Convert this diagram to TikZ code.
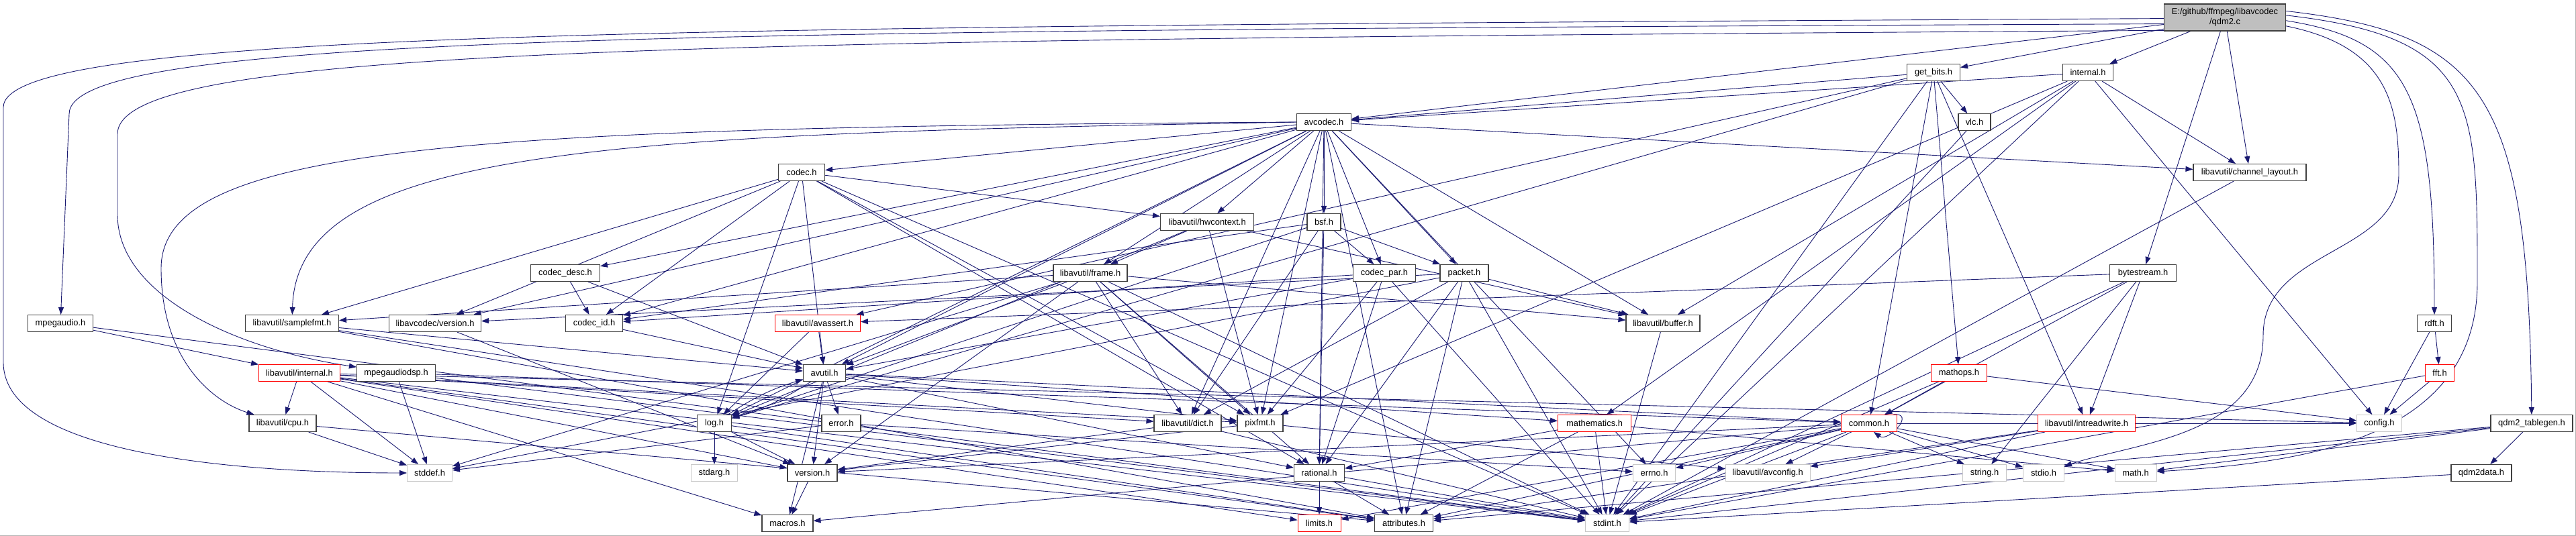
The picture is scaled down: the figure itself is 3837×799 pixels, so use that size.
\documentclass[tikz,border=0pt]{standalone}
\usepackage{fontspec}
\setmainfont{Liberation Sans}
\usepackage{xcolor}
\usepackage{tikz}
\usetikzlibrary{arrows.meta,backgrounds}
\definecolor{dxedge}{RGB}{25,25,112}
\definecolor{dxroot}{RGB}{191,191,191}
\definecolor{dxline}{RGB}{64,64,64}
\definecolor{dxsys}{RGB}{200,200,200}
\definecolor{dxtrunc}{RGB}{255,0,0}

\begin{document}
\begin{tikzpicture}[
  x=1pt, y=-1pt,
  font=\fontsize{12.9}{15}\selectfont,
  box/.style={draw=dxline,line width=1.1pt,fill=white,minimum height=25pt,inner sep=0pt},
  trunc/.style={box,draw=dxtrunc,line width=0.9pt},
  sys/.style={box,draw=dxsys,line width=0.9pt},
  flow/.style={-{Triangle[length=11pt,width=8pt]},draw=dxedge,line width=0.9pt}
]
\useasboundingbox (0,0) rectangle (3837,799);
\node[box,fill=dxroot,draw=dxline,minimum width=181pt,minimum height=40pt,align=center] (root) at (3314,26) {E:/github/ffmpeg/libavcodec\\/qdm2.c};
\node[box,minimum width=79pt] (getbits) at (2880,108) {get\_bits.h};
\node[box,minimum width=75pt] (lavcint) at (3110,108) {internal.h};
\node[box,minimum width=81pt] (avcodec) at (1972,182) {avcodec.h};
\node[box,minimum width=48pt] (vlc) at (2941,182) {vlc.h};
\node[box,minimum width=69pt] (codec) at (1194,257) {codec.h};
\node[box,minimum width=168pt] (chlayout) at (3351,257) {libavutil/channel\_layout.h};
\node[box,minimum width=139pt] (hwctx) at (1798,331) {libavutil/hwcontext.h};
\node[box,minimum width=50pt] (bsf) at (1972,331) {bsf.h};
\node[box,minimum width=103pt] (codecdesc) at (842,407) {codec\_desc.h};
\node[box,minimum width=110pt] (frame) at (1624,407) {libavutil/frame.h};
\node[box,minimum width=93pt] (codecpar) at (2062,407) {codec\_par.h};
\node[box,minimum width=72pt] (packet) at (2181,407) {packet.h};
\node[box,minimum width=99pt] (bytestr) at (3192,407) {bytestream.h};
\node[box,minimum width=97pt] (mpegaudio) at (90,482) {mpegaudio.h};
\node[box,minimum width=139pt] (samplefmt) at (435,482) {libavutil/samplefmt.h};
\node[box,minimum width=137pt] (lavcver) at (648,482) {libavcodec/version.h};
\node[box,minimum width=85pt] (codecid) at (885,482) {codec\_id.h};
\node[trunc,minimum width=127pt] (avassert) at (1218,482) {libavutil/avassert.h};
\node[box,minimum width=110pt] (buffer) at (2477,482) {libavutil/buffer.h};
\node[box,minimum width=51pt] (rdft) at (3626,482) {rdft.h};
\node[trunc,minimum width=121pt] (lavuint) at (446,556) {libavutil/internal.h};
\node[box,minimum width=117pt] (mpadsp) at (590,556) {mpegaudiodsp.h};
\node[box,minimum width=63pt] (avutil) at (1228,556) {avutil.h};
\node[trunc,minimum width=83pt] (mathops) at (2918,556) {mathops.h};
\node[trunc,minimum width=43pt] (fft) at (3634,556) {fft.h};
\node[box,minimum width=100pt] (cpu) at (421,631) {libavutil/cpu.h};
\node[box,minimum width=51pt] (log) at (1064,631) {log.h};
\node[box,minimum width=58pt] (error) at (1253,631) {error.h};
\node[box,minimum width=100pt] (dict) at (1769,631) {libavutil/dict.h};
\node[box,minimum width=68pt] (pixfmt) at (1877,631) {pixfmt.h};
\node[trunc,minimum width=109pt] (mathem) at (2375,631) {mathematics.h};
\node[trunc,minimum width=83pt] (common) at (2784,631) {common.h};
\node[trunc,minimum width=145pt] (intrw) at (3108,631) {libavutil/intreadwrite.h};
\node[sys,minimum width=67pt] (config) at (3544,631) {config.h};
\node[box,minimum width=122pt] (tablegen) at (3771,631) {qdm2\_tablegen.h};
\node[sys,minimum width=67pt] (stddef) at (640,705) {stddef.h};
\node[sys,minimum width=69pt] (stdarg) at (1064,705) {stdarg.h};
\node[box,minimum width=74pt] (version) at (1210,705) {version.h};
\node[box,minimum width=75pt] (rational) at (1965,705) {rational.h};
\node[sys,minimum width=63pt] (errno) at (2464,705) {errno.h};
\node[sys,minimum width=126pt] (avconfig) at (2633,705) {libavutil/avconfig.h};
\node[sys,minimum width=65pt] (string) at (2956,705) {string.h};
\node[sys,minimum width=61pt] (stdio) at (3044,705) {stdio.h};
\node[sys,minimum width=62pt] (math) at (3181,705) {math.h};
\node[box,minimum width=90pt] (qdm2data) at (3696,705) {qdm2data.h};
\node[box,minimum width=76pt] (macros) at (1173,780) {macros.h};
\node[trunc,minimum width=64pt] (limits) at (1965,780) {limits.h};
\node[box,minimum width=87pt] (attrib) at (2091,780) {attributes.h};
\node[sys,minimum width=65pt] (stdint) at (2394,780) {stdint.h};
\begin{scope}[on background layer]
\fill[white] (0,0) rectangle (3837,799);
\draw[black!30,line width=1pt] (3836.5,0) -- (3836.5,798.5) -- (0,798.5);
\draw[flow] (root) -- (avcodec);
\draw[flow] (root) -- (getbits);
\draw[flow] (root) -- (lavcint);
\draw[flow] (root) -- (chlayout);
\draw[flow] (root) -- (bytestr);
\draw[flow] (root.-3) .. controls (3590,60) and (3626,140) .. (rdft);
\draw[flow] (root.6) .. controls (3700,50) and (3766,140) .. (tablegen);
\draw[flow] (root.2) .. controls (3690,55) and (3690,150) .. (3690,420) .. controls (3690,660) and (3420,690) .. (math);
\draw[flow] (root.-8) .. controls (3560,70) and (3573,160) .. (3573,260) .. controls (3573,380) and (3371,370) .. (3371,500) .. controls (3371,650) and (3180,660) .. (stdio);
\draw[flow] (root.181) .. controls (1000,40) and (5,45) .. (5,160) -- (5,540) .. controls (5,690) and (420,705) .. (stddef);
\draw[flow] (root.186) .. controls (1000,46) and (103,52) .. (103,170) -- (mpegaudio);
\draw[flow] (root.192) .. controls (1000,60) and (175,70) .. (175,200) -- (175,320) .. controls (175,440) and (350,520) .. (mpadsp);
\draw[flow] (getbits) -- (vlc);
\draw[flow] (getbits) -- (mathops);
\draw[flow] (getbits) -- (common);
\draw[flow] (getbits) -- (intrw);
\draw[flow] (getbits) -- (avassert);
\draw[flow] (getbits) -- (log);
\draw[flow] (getbits) -- (stdint);
\draw[flow] (getbits) -- (avcodec);
\draw[flow] (vlc) -- (stdint);
\draw[flow] (lavcint) -- (avcodec);
\draw[flow] (lavcint) -- (chlayout);
\draw[flow] (lavcint) -- (buffer);
\draw[flow] (lavcint) -- (mathem);
\draw[flow] (lavcint) -- (pixfmt);
\draw[flow] (lavcint) -- (config);
\draw[flow] (lavcint) -- (stdint);
\draw[flow] (avcodec.west) .. controls (900,200) and (442,220) .. (samplefmt);
\draw[flow] (avcodec) -- (attrib);
\draw[flow] (avcodec) -- (avutil);
\draw[flow] (avcodec) -- (buffer);
\draw[flow] (avcodec.west) .. controls (700,190) and (240,215) .. (240,400) .. controls (240,540) and (320,600) .. (cpu);
\draw[flow] (avcodec) -- (chlayout);
\draw[flow] (avcodec) -- (dict);
\draw[flow] (avcodec) -- (frame);
\draw[flow] (avcodec) -- (hwctx);
\draw[flow] (avcodec) -- (log);
\draw[flow] (avcodec) -- (pixfmt);
\draw[flow] (avcodec) -- (rational);
\draw[flow] (avcodec) -- (bsf);
\draw[flow] (avcodec) -- (codec);
\draw[flow] (avcodec) -- (codecdesc);
\draw[flow] (avcodec) -- (codecpar);
\draw[flow] (avcodec) -- (codecid);
\draw[flow] (avcodec) -- (packet);
\draw[flow] (avcodec) -- (lavcver);
\draw[flow] (avcodec) -- (errno);
\draw[flow] (codec) -- (stdint);
\draw[flow] (codec) -- (avutil);
\draw[flow] (codec) -- (hwctx);
\draw[flow] (codec) -- (log);
\draw[flow] (codec) -- (pixfmt);
\draw[flow] (codec) -- (rational);
\draw[flow] (codec) -- (samplefmt);
\draw[flow] (codec) -- (codecid);
\draw[flow] (codec) -- (lavcver);
\draw[flow] (chlayout) -- (stdint);
\draw[flow] (hwctx) -- (buffer);
\draw[flow] (hwctx) -- (frame);
\draw[flow] (hwctx) -- (log);
\draw[flow] (hwctx) -- (pixfmt);
\draw[flow] (bsf) -- (dict);
\draw[flow] (bsf) -- (log);
\draw[flow] (bsf) -- (rational);
\draw[flow] (bsf) -- (codecid);
\draw[flow] (bsf) -- (codecpar);
\draw[flow] (bsf) -- (packet);
\draw[flow] (codecdesc) -- (avutil);
\draw[flow] (codecdesc) -- (codecid);
\draw[flow] (frame) -- (stddef);
\draw[flow] (frame) -- (stdint);
\draw[flow] (frame) -- (avutil);
\draw[flow] (frame) -- (buffer);
\draw[flow] (frame) -- (dict);
\draw[flow] (frame) -- (rational);
\draw[flow] (frame) -- (samplefmt);
\draw[flow] (frame) -- (pixfmt);
\draw[flow] (frame) -- (version);
\draw[flow] (codecpar) -- (stdint);
\draw[flow] (codecpar) -- (avutil);
\draw[flow] (codecpar) -- (rational);
\draw[flow] (codecpar) -- (pixfmt);
\draw[flow] (codecpar) -- (codecid);
\draw[flow] (packet) -- (stddef);
\draw[flow] (packet) -- (stdint);
\draw[flow] (packet) -- (attrib);
\draw[flow] (packet) -- (buffer);
\draw[flow] (packet) -- (dict);
\draw[flow] (packet) -- (rational);
\draw[flow] (packet) -- (lavcver);
\draw[flow] (bytestr) -- (stdint);
\draw[flow] (bytestr) -- (string);
\draw[flow] (bytestr) -- (avassert);
\draw[flow] (bytestr) -- (common);
\draw[flow] (bytestr) -- (intrw);
\draw[flow] (mpegaudio) -- (stdint);
\draw[flow] (mpegaudio) -- (lavuint);
\draw[flow] (samplefmt) -- (stdint);
\draw[flow] (samplefmt) -- (avutil);
\draw[flow] (samplefmt) -- (attrib);
\draw[flow] (lavcver) -- (version);
\draw[flow] (codecid) -- (avutil);
\draw[flow] (avassert) -- (avutil);
\draw[flow] (avassert) -- (log);
\draw[flow] (buffer) -- (stdint);
\draw[flow] (rdft) -- (config);
\draw[flow] (rdft) -- (fft);
\draw[flow] (lavuint) -- (limits);
\draw[flow] (lavuint) -- (stdint);
\draw[flow] (lavuint) -- (stddef);
\draw[flow] (lavuint) -- (config);
\draw[flow] (lavuint) -- (attrib);
\draw[flow] (lavuint) -- (cpu);
\draw[flow] (lavuint) -- (dict);
\draw[flow] (lavuint) -- (macros);
\draw[flow] (lavuint) -- (pixfmt);
\draw[flow] (lavuint) -- (version);
\draw[flow] (mpadsp) -- (stddef);
\draw[flow] (mpadsp) -- (stdint);
\draw[flow] (mpadsp) -- (common);
\draw[flow] (avutil) -- (common);
\draw[flow] (avutil) -- (error);
\draw[flow] (avutil) -- (rational);
\draw[flow] (avutil) -- (version);
\draw[flow] (avutil) -- (macros);
\draw[flow] (avutil) -- (mathem);
\draw[flow] (avutil) to[bend left=8] (log);
\draw[flow] (avutil) -- (pixfmt);
\draw[flow] (mathops) -- (stdint);
\draw[flow] (mathops) -- (common);
\draw[flow] (mathops) -- (config);
\draw[flow] (fft) -- (stdint);
\draw[flow] (fft) -- (config);
\draw[flow] (cpu) -- (stddef);
\draw[flow] (cpu) -- (attrib);
\draw[flow] (log) -- (stdarg);
\draw[flow] (log) to[bend left=8] (avutil);
\draw[flow] (log) -- (attrib);
\draw[flow] (log) -- (version);
\draw[flow] (error) -- (errno);
\draw[flow] (error) -- (stddef);
\draw[flow] (dict) -- (stdint);
\draw[flow] (dict) -- (version);
\draw[flow] (pixfmt) -- (avconfig);
\draw[flow] (pixfmt) -- (version);
\draw[flow] (mathem) -- (stdint);
\draw[flow] (mathem) -- (math);
\draw[flow] (mathem) -- (attrib);
\draw[flow] (mathem) -- (rational);
\draw[flow] (common) -- (errno);
\draw[flow] (common) -- (limits);
\draw[flow] (common) -- (math);
\draw[flow] (common) -- (stdint);
\draw[flow] (common) -- (stdio);
\draw[flow] (common) -- (string);
\draw[flow] (common) -- (attrib);
\draw[flow] (common) -- (macros);
\draw[flow] (common) -- (version);
\draw[flow] (common) -- (avconfig);
\draw[flow] (common) -- (config);
\draw[flow] (common.20) .. controls +(35,-4) and +(22,16) .. (common.-62);
\draw[flow] (intrw) -- (stdint);
\draw[flow] (intrw) -- (avconfig);
\draw[flow] (intrw) -- (attrib);
\draw[flow] (tablegen) -- (stdint);
\draw[flow] (tablegen) -- (math);
\draw[flow] (tablegen) -- (attrib);
\draw[flow] (tablegen) -- (qdm2data);
\draw[flow] (version) -- (macros);
\draw[flow] (rational) -- (stdint);
\draw[flow] (rational) -- (limits);
\draw[flow] (rational) -- (attrib);
\draw[flow] (qdm2data) -- (stdint);
\end{scope}
\end{tikzpicture}
\end{document}
